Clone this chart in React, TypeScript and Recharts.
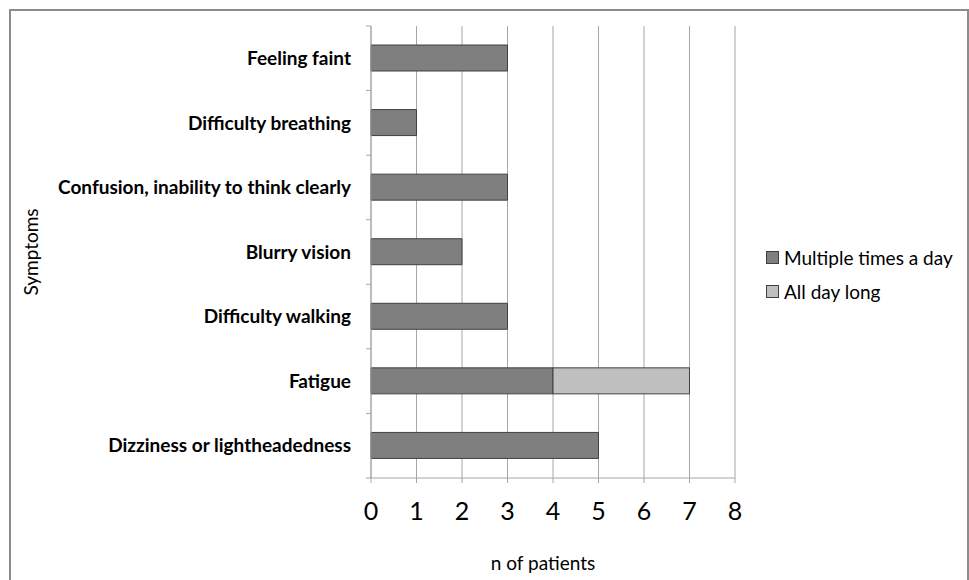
import { BarChart, Bar, XAxis, YAxis, CartesianGrid, Legend } from "recharts";

const symptoms = [
  "Feeling faint",
  "Difficulty breathing",
  "Confusion, inability to think clearly",
  "Blurry vision",
  "Difficulty walking",
  "Fatigue",
  "Dizziness or lightheadedness",
];
const multipleTimes = [3, 1, 3, 2, 3, 4, 5];
const allDayLong = [null, null, null, null, null, 3, null];
const xTicks = [0, 1, 2, 3, 4, 5, 6, 7, 8];
const seriesNames = ["Multiple times a day", "All day long"];

const data = symptoms.map((name, i) => ({
  name,
  multiple: multipleTimes[i],
  allDay: allDayLong[i],
}));

const FONT = "Lato, 'Open Sans', sans-serif";

// category tick: label at the band centre, small tick marks at band edges
const SymptomTick = (props: any) => {
  const { x, y, payload, index, visibleTicksCount, height } = props;
  const band = height / visibleTicksCount;
  const half = band / 2;
  const last = index === visibleTicksCount - 1;
  return (
    <g>
      <line x1={x + 15} x2={x + 20} y1={y - half} y2={y - half} stroke="#a6a6a6" />
      {last && <line x1={x + 15} x2={x + 20} y1={y + half} y2={y + half} stroke="#a6a6a6" />}
      <text
        x={x}
        y={y}
        dy="0.35em"
        textAnchor="end"
        fontFamily={FONT}
        fontWeight={700}
        fontSize={19}
        fill="#000"
      >
        {payload.value}
      </text>
    </g>
  );
};

const renderLegend = (props: any) => {
  const items = [...props.payload].sort(
    (a: any, b: any) => seriesNames.indexOf(a.value) - seriesNames.indexOf(b.value)
  );
  return (
    <div style={{ fontFamily: FONT, fontSize: 19, color: "#000" }}>
      {items.map((p: any) => (
        <div key={p.value} style={{ display: "flex", alignItems: "center", height: 34 }}>
          <span
            style={{
              width: 11,
              height: 11,
              background: p.color,
              border: "1px solid #404040",
              marginRight: 5,
            }}
          />
          {p.value}
        </div>
      ))}
    </div>
  );
};

export default function App() {
  return (
    <div
      style={{
        position: "absolute",
        left: 0,
        top: 0,
        width: 969,
        height: 580,
        background: "#fff",
        overflow: "hidden",
      }}
    >
      <div
        style={{
          position: "absolute",
          left: 9,
          top: 9,
          width: 956,
          height: 620,
          border: "2px solid #8c8c8c",
        }}
      />
      <div style={{ position: "absolute", left: 0, top: 0 }}>
        <BarChart
          width={969}
          height={580}
          data={data}
          layout="vertical"
          barSize={26}
          margin={{ top: 26, right: 234, bottom: 0, left: 0 }}
        >
          <CartesianGrid horizontal={false} stroke="#a6a6a6" />
          <XAxis
            type="number"
            domain={[0, 8]}
            ticks={xTicks}
            interval={0}
            height={102}
            stroke="#a6a6a6"
            tickSize={5}
            tickMargin={19}
            tick={{ fill: "#000", fontSize: 25, fontFamily: FONT }}
            label={(p: any) => {
              const vb = p.viewBox;
              return (
                <text
                  x={543}
                  y={vb.y + vb.height - 18}
                  textAnchor="middle"
                  dominantBaseline="central"
                  fontFamily={FONT}
                  fontSize={19}
                  fill="#000"
                >
                  n of patients
                </text>
              );
            }}
          />
          <YAxis
            type="category"
            dataKey="name"
            width={371}
            stroke="#a6a6a6"
            tickLine={false}
            interval={0}
            tick={<SymptomTick />}
            tickMargin={14}
            label={(p: any) => {
              const vb = p.viewBox;
              const cy = vb.y + vb.height / 2;
              return (
                <text
                  x={30}
                  y={cy}
                  textAnchor="middle"
                  dominantBaseline="central"
                  transform={`rotate(-90 30 ${cy})`}
                  fontFamily={FONT}
                  fontSize={19}
                  fill="#000"
                >
                  Symptoms
                </text>
              );
            }}
          />
          <Legend
            layout="vertical"
            align="center"
            verticalAlign="middle"
            content={renderLegend}
            wrapperStyle={{ left: 766, top: 240, width: 200 }}
          />
          <Bar
            dataKey="multiple"
            name={seriesNames[0]}
            stackId="a"
            fill="#7f7f7f"
            stroke="#404040"
            strokeWidth={1}
            isAnimationActive={false}
          />
          <Bar
            dataKey="allDay"
            name={seriesNames[1]}
            stackId="a"
            fill="#bfbfbf"
            stroke="#404040"
            strokeWidth={1}
            isAnimationActive={false}
          />
        </BarChart>
      </div>
    </div>
  );
}
